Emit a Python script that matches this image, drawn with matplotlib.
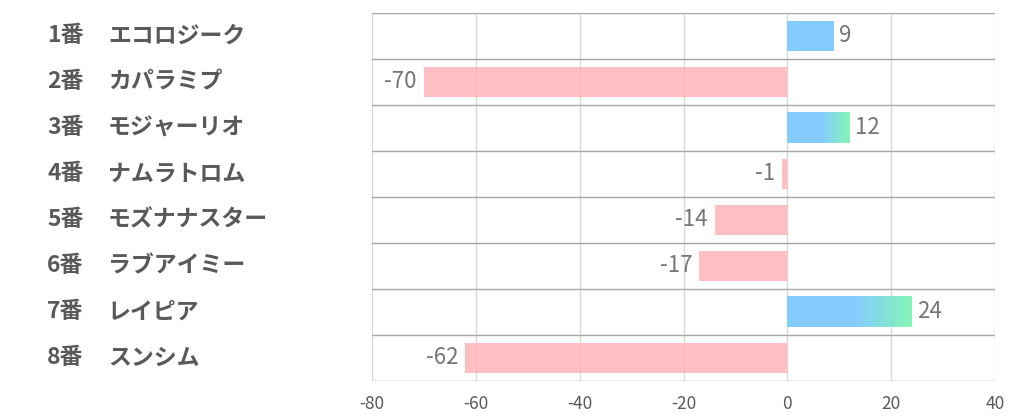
import matplotlib.pyplot as plt
import numpy as np
from matplotlib.colors import to_rgb
import matplotlib.transforms as mtransforms

plt.rcParams['font.family'] = ['Noto Sans CJK JP', 'DejaVu Sans']
plt.rcParams['axes.unicode_minus'] = False

# data
numbers = ['1番', '2番', '3番', '4番', '5番', '6番', '7番', '8番']
names = ['エコロジーク', 'カパラミプ', 'モジャーリオ', 'ナムラトロム',
         'モズナナスター', 'ラブアイミー', 'レイピア', 'スンシム']
values = [9, -70, 12, -1, -14, -17, 24, -62]
gradient_rows = [2, 6]   # bars drawn blue -> green

blue = '#7dcaff'
green = '#7ff5b4'
pink = '#ffbbbe'
txt = '#595959'

fig = plt.figure(figsize=(10.22, 4.17), dpi=100)
ax = fig.add_axes([372/1022, 1-381/417, (995-372)/1022, (381-13)/417])

h = 0.67

for i, v in enumerate(values):
    if v >= 0:
        if i in gradient_rows:
            n = 200
            f = np.linspace(0, 1, n)
            t = np.clip((f - 0.55) / 0.45, 0, 1)
            c0 = np.array(to_rgb(blue))
            c1 = np.array(to_rgb(green))
            img = (c0[None, :] * (1 - t[:, None]) + c1[None, :] * t[:, None])[None, :, :]
            ax.imshow(img, extent=(0, v, i + h/2, i - h/2), aspect='auto',
                      interpolation='bilinear', zorder=2, alpha=0.95)
        else:
            ax.barh(i, v, height=h, color=blue, zorder=2, alpha=0.95)
    else:
        ax.barh(i, v, height=h, color=pink, zorder=2, alpha=0.95)

ax.set_xlim(-80, 40)
ax.set_ylim(len(values) - 0.5, -0.5)
ax.set_xticks(np.arange(-80, 41, 20))
ax.set_yticks([])

for xv in np.arange(-80, 41, 20):
    ax.axvline(xv, color='#d9d9d9', linewidth=1, zorder=1)
for yv in np.arange(-0.5, len(values), 1):
    ax.axhline(yv, color='#a6a6a6', linewidth=1, zorder=3)

for s in ax.spines.values():
    s.set_visible(False)

ax.tick_params(axis='x', length=0, pad=10, labelsize=12.5, labelcolor=txt)

# value labels
for i, v in enumerate(values):
    if v >= 0:
        ax.annotate(str(v), (v, i), xytext=(5, 0), textcoords='offset pixels',
                    ha='left', va='center', fontsize=16, color='#767676')
    else:
        ax.annotate(str(v), (v, i), xytext=(-7, 0), textcoords='offset pixels',
                    ha='right', va='center', fontsize=16, color='#767676')

# row labels on the left
trans = mtransforms.blended_transform_factory(fig.transFigure, ax.transData)
for i in range(len(values)):
    ax.text(47/1022, i, numbers[i], transform=trans, ha='left', va='center',
            fontsize=16.5, fontweight='bold', color=txt)
    ax.text(108/1022, i, names[i], transform=trans, ha='left', va='center',
            fontsize=16.5, fontweight='bold', color=txt)

fig.savefig('out.png', dpi=100)
